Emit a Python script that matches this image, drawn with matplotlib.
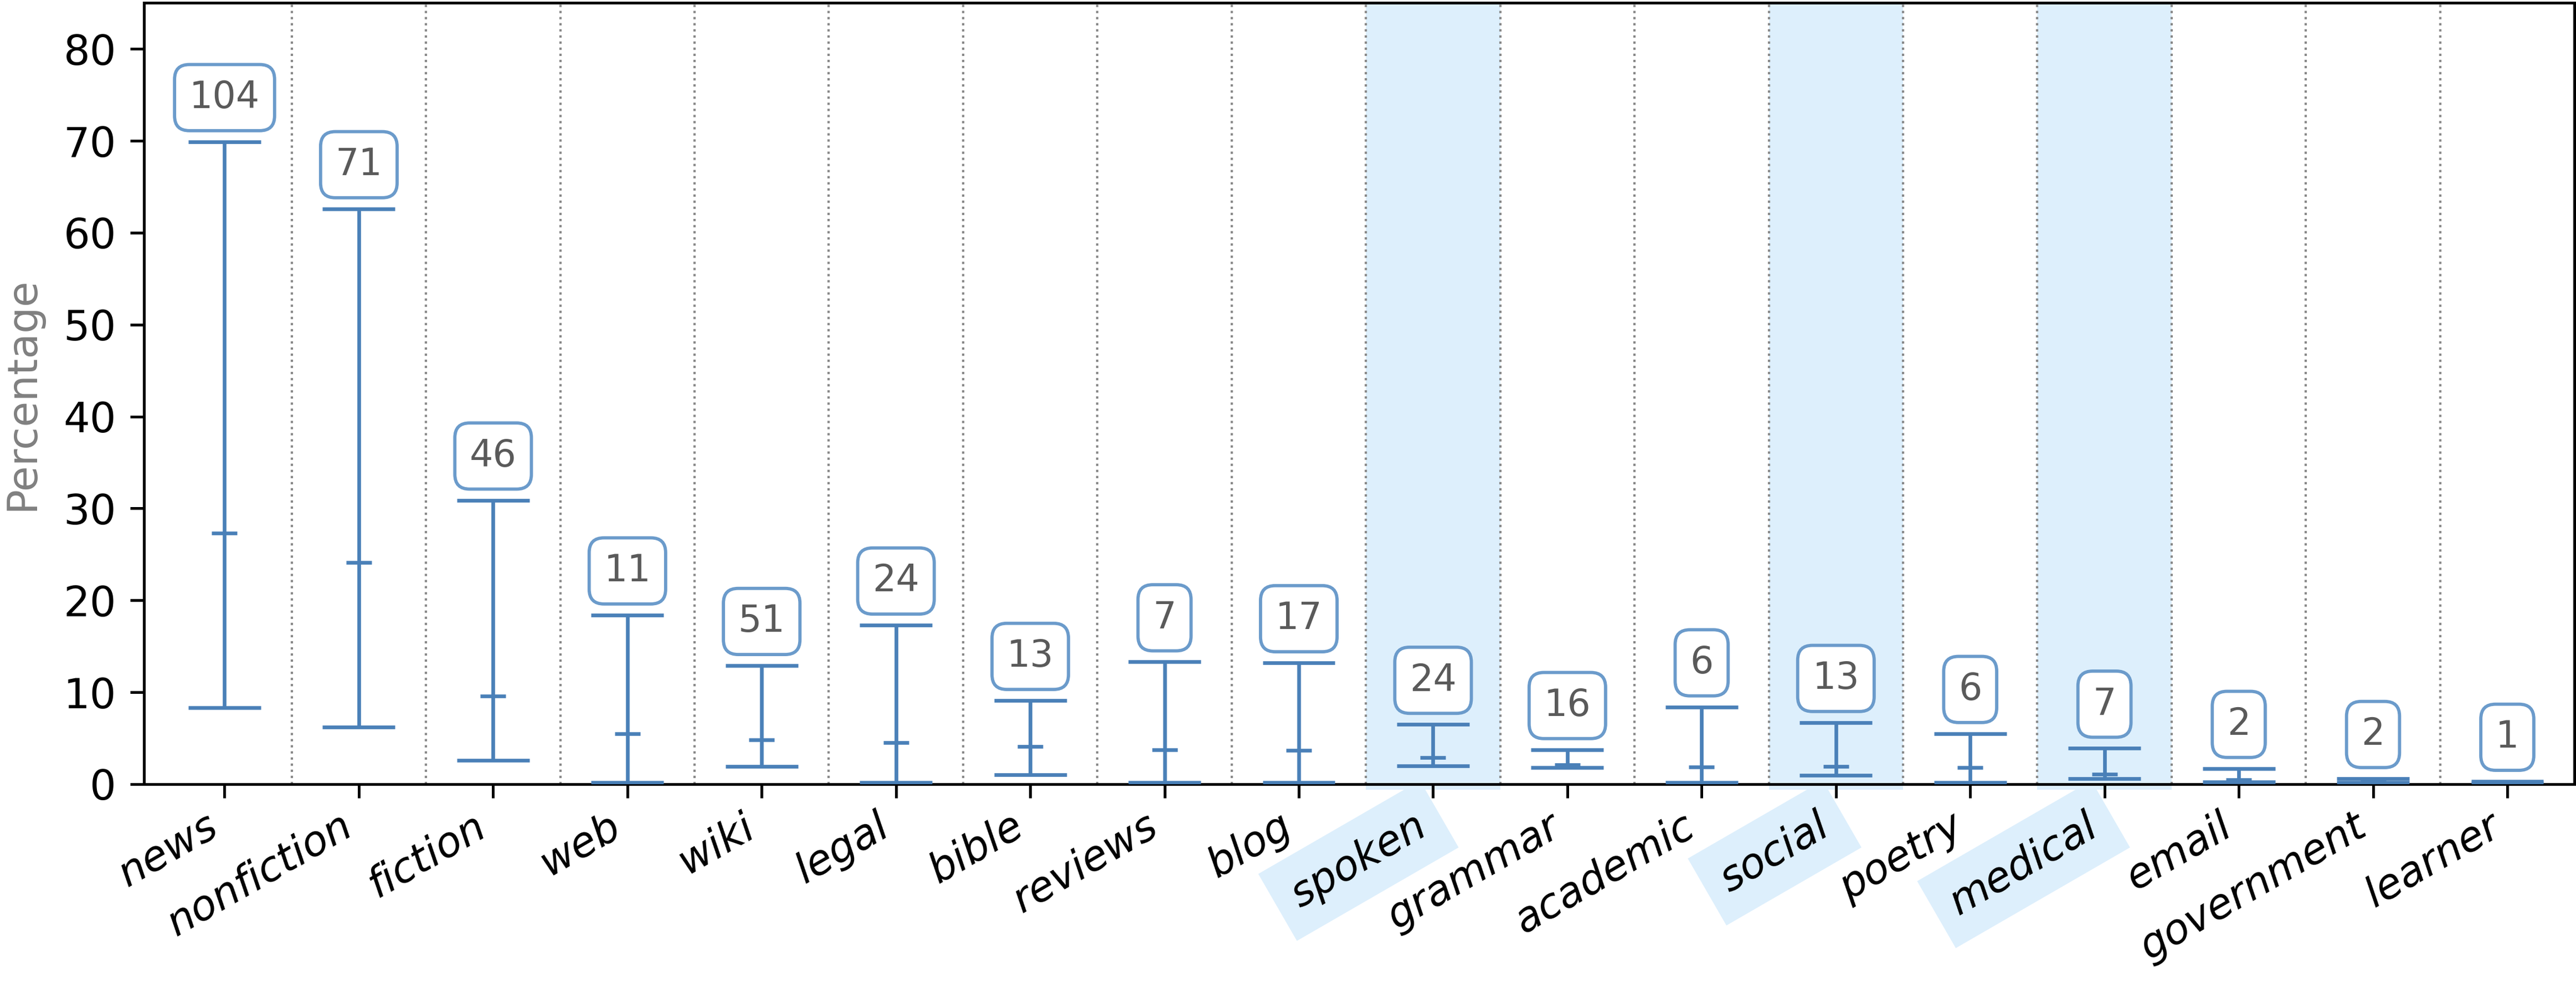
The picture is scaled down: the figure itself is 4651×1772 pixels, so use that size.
import matplotlib
matplotlib.use("Agg")
import matplotlib.pyplot as plt
import numpy as np

# Domains and per-domain statistics (percentage)
domains = ["news", "nonfiction", "fiction", "web", "wiki", "legal", "bible",
           "reviews", "blog", "spoken", "grammar", "academic", "social",
           "poetry", "medical", "email", "government", "learner"]
max_vals = [69.9, 62.6, 30.9, 18.4, 12.9, 17.3, 9.1, 13.3, 13.2, 6.5, 3.75,
            8.4, 6.7, 5.5, 3.9, 1.7, 0.6, 0.3]
mean_vals = [27.3, 24.1, 9.6, 5.5, 4.8, 4.5, 4.1, 3.75, 3.7, 2.9, 2.1,
             1.85, 1.9, 1.8, 1.07, 0.45, 0.35, 0.2]
min_vals = [8.3, 6.2, 2.6, 0.2, 1.9, 0.2, 1.0, 0.2, 0.15, 2.0, 1.8,
            0.2, 0.97, 0.2, 0.57, 0.25, 0.15, 0.12]
counts = [104, 71, 46, 11, 51, 24, 13, 7, 17, 24, 16, 6, 13, 6, 7, 2, 2, 1]
highlighted = ["spoken", "social", "medical"]

line_color = "#4a80b8"
box_edge = "#6b9bcb"
shade = "#ddeffc"

fig = plt.figure(figsize=(4651 / 300, 1772 / 300), dpi=300)
ax = fig.add_axes([0.0559, 0.2015, 0.9435, 0.7955])

x = np.arange(len(domains))

# shaded columns for highlighted domains
for i, d in enumerate(domains):
    if d in highlighted:
        ax.axvspan(i - 0.5, i + 0.5, ymin=-0.007, ymax=1, color=shade,
                   lw=0, zorder=0, clip_on=False)

# dotted separators between domains
for i in range(len(domains) - 1):
    ax.axvline(i + 0.5, color="#888888", ls=":", lw=1.0, zorder=1)

# min/max range with caps, short tick at the mean
ax.vlines(x, min_vals, max_vals, color=line_color, lw=1.6, zorder=3)
ax.hlines(max_vals, x - 0.27, x + 0.27, color=line_color, lw=1.6, zorder=3)
ax.hlines(min_vals, x - 0.27, x + 0.27, color=line_color, lw=1.6, zorder=3)
ax.hlines(mean_vals, x - 0.095, x + 0.095, color=line_color, lw=1.6, zorder=3)

# count labels above each range
for xi, top, n in zip(x, max_vals, counts):
    ax.text(xi, top + 4.8, str(n), ha="center", va="center", fontsize=16,
            color="#5a5a5a", zorder=4,
            bbox=dict(boxstyle="round,pad=0.4", fc="white", ec=box_edge, lw=1.4))

ax.set_xlim(-0.6, 17.5)
ax.set_ylim(0, 85)
ax.set_yticks(np.arange(0, 81, 10))
ax.tick_params(axis="both", labelsize=18, length=6, width=1.2)
ax.tick_params(axis="y", pad=6)
ax.set_xticks(x)
ax.set_xticklabels(domains, rotation=30, ha="right", fontstyle="italic")
for lbl in ax.get_xticklabels():
    if lbl.get_text() in highlighted:
        lbl.set_bbox(dict(boxstyle="square,pad=0.45", fc=shade, ec="none"))

ax.set_ylabel("Percentage", fontsize=18, color="#808080", labelpad=9)
for sp in ax.spines.values():
    sp.set_linewidth(1.2)

fig.savefig("out.png", dpi=300)
